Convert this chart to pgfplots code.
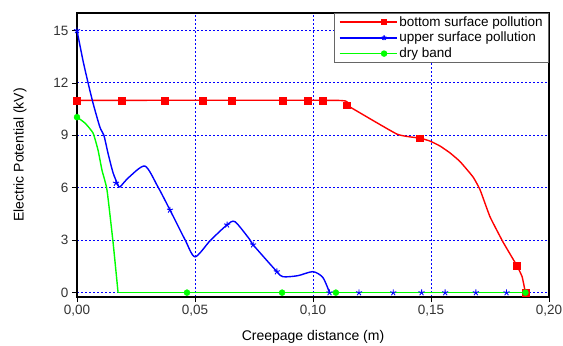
\documentclass[border=0pt]{standalone}
\usepackage{fontspec}
\setmainfont{Liberation Sans}
\usepackage{pgfplots}
\pgfplotsset{compat=1.18}
\begin{document}
\begin{tikzpicture}
\begin{axis}[
  name=ax,
  scale only axis,
  width=472pt, height=284pt,
  xmin=0, xmax=0.2, ymin=-0.25, ymax=16,
  xtick={0,0.05,0.1,0.15,0.2},
  ytick={0,3,6,9,12,15},
  tick pos=left, tick align=outside,
  major tick length=5pt,
  every tick/.style={black, line width=0.8pt},
  axis line style={black, line width=1.4pt},
  grid=major,
  major grid style={color=blue, line width=0.9pt, dash pattern=on 2pt off 2pt},
  /pgf/number format/assume math mode=true,
  xticklabel style={/pgf/number format/.cd, fixed, fixed zerofill, precision=2, use comma},
  yticklabel style={/pgf/number format/.cd, fixed, precision=0},
  tick label style={font=\fontsize{13.5}{15}\selectfont, text=black!80},
  xlabel={Creepage distance (m)},
  ylabel={Electric Potential (kV)},
  every axis x label/.style={at={(axis description cs:0.5,-0.141)}, anchor=center, font=\fontsize{14}{15}\selectfont},
  every axis y label/.style={at={(axis description cs:-0.1208,0.5)}, anchor=center, rotate=90, font=\fontsize{14}{15}\selectfont},
  legend style={at={(1,1)}, anchor=north east, draw=black!60, line width=0.8pt,
    font=\fontsize{13.5}{15}\selectfont, inner xsep=4pt, inner ysep=1pt, row sep=0.5pt},
  legend cell align=left,
  legend image code/.code={%
    \path (-32pt,0pt) -- (0pt,0pt);
    \draw[mark repeat=2,mark phase=2,#1] plot coordinates {(0pt,0pt) (12.5pt,0pt) (25pt,0pt)};},
  clip=false,
]
% bottom surface pollution line
\addplot[red, line width=1.4pt, forget plot, smooth, tension=0.25] coordinates {
(0,11) (0.110,11) (0.1144,10.72) (0.1356,9.07) (0.1453,8.84) (0.1496,8.67) (0.1538,8.39)
(0.158,8.0) (0.1623,7.5) (0.1678,6.62) (0.1708,5.88) (0.175,4.34) (0.1805,2.9)
(0.1864,1.54) (0.1886,0.91) (0.19,0)};
\addplot[red, only marks, mark=square*, mark size=3.4pt, forget plot] coordinates {
(0,11) (0.019,11) (0.0373,11) (0.0534,11) (0.0657,11) (0.0873,11) (0.0979,11) (0.1042,11)
(0.1144,10.72) (0.1453,8.84) (0.1864,1.54) (0.19,0)};
% upper surface pollution
\addplot[blue, line width=1.4pt, forget plot, smooth, tension=0.45] coordinates {
(0,15) (0.0025,13.3) (0.0047,12.0) (0.0068,10.84) (0.0097,9.47) (0.0114,9.0) (0.0131,8.0)
(0.0153,6.85) (0.0174,6.16) (0.0182,6.05) (0.022,6.6) (0.0288,7.24) (0.0343,6.05) (0.0394,4.73)
(0.0458,3.02) (0.050,2.05) (0.0564,2.97) (0.0636,3.88) (0.067,4.05) (0.0733,3.02)
(0.0746,2.74) (0.0847,1.2) (0.0873,0.91) (0.0936,0.97) (0.100,1.2) (0.1042,0.86) (0.107,0)};
\addplot[blue, line width=1.4pt, forget plot] coordinates {(0.107,0) (0.19,0)};
\addplot[blue, only marks, mark=star, mark size=3.2pt, line width=0.9pt, forget plot] coordinates {
(0,15) (0.0165,6.27) (0.0394,4.73) (0.0636,3.88) (0.0746,2.74) (0.0847,1.2) (0.107,0)
(0.1195,0) (0.134,0) (0.146,0) (0.156,0) (0.169,0) (0.182,0)};
% dry band
\addplot[green, line width=1.4pt, forget plot, smooth, tension=0.3] coordinates {
(0,10.04) (0.0034,9.7) (0.0068,9.13) (0.0089,8.16) (0.0106,7.0) (0.0127,5.88) (0.0153,2.85) (0.0174,0)};
\addplot[green, line width=1.4pt, forget plot] coordinates {(0.0174,0) (0.19,0)};
\addplot[green, only marks, mark=*, mark size=3pt, forget plot] coordinates {
(0,10.04) (0.0466,0) (0.0869,0) (0.1097,0) (0.19,0)};
\addlegendimage{red, line width=1.4pt, mark=square*, mark size=2.5pt}
\addlegendentry{bottom surface pollution}
\addlegendimage{blue, line width=1.4pt, mark=star, mark size=2.5pt}
\addlegendentry{upper surface pollution}
\addlegendimage{green, line width=1.4pt, mark=*, mark size=2.5pt}
\addlegendentry{dry band}
\end{axis}
\pgfresetboundingbox
\path ([xshift=-77pt,yshift=-48pt]ax.south west) rectangle ([xshift=14pt,yshift=13pt]ax.north east);
\end{tikzpicture}
\end{document}
